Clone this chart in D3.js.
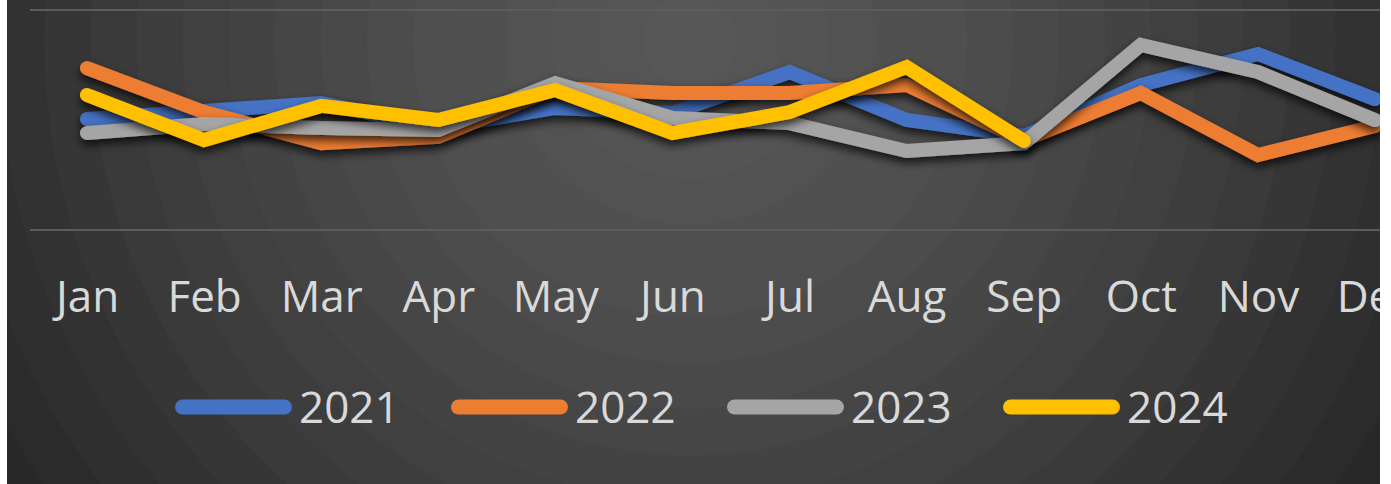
<!DOCTYPE html>
<html><head><meta charset="utf-8">
<script src="https://cdn.jsdelivr.net/npm/d3@7"></script>
<style>html,body{margin:0;padding:0;background:#fff;overflow:hidden}</style>
</head><body>
<svg id="chart" width="1391" height="484"></svg>
<script>
const months = ["Jan","Feb","Mar","Apr","May","Jun","Jul","Aug","Sep","Oct","Nov","Dec"];
const seriesNames = ["2021","2022","2023","2024"];
const values2021 = [50.5, 54.1, 57.7, 46.4, 55.5, 53.2, 71.8, 50.0, 42.7, 65.9, 80.0, 59.5];
const values2022 = [73.6, 53.6, 39.5, 42.3, 64.5, 62.3, 62.3, 65.9, 40.9, 62.3, 34.1, 47.3];
const values2023 = [44.1, 48.2, 46.4, 45.5, 66.8, 50.9, 48.6, 35.9, 39.5, 84.1, 71.8, 50.0];
const values2024 = [61.4, 40.9, 56.4, 50.0, 63.6, 44.1, 53.6, 74.1, 40.5];
const gridValues = [0, 100];
const seriesColors = ["#4472C4", "#ED7D31", "#A5A5A5", "#FFC000"];

const allValues = [values2021, values2022, values2023, values2024];
const W = 1391, H = 484;
const svg = d3.select("#chart");
const defs = svg.append("defs");

// stepped radial background (concentric bands)
const rg = defs.append("radialGradient").attr("id","bg")
  .attr("gradientUnits","userSpaceOnUse").attr("cx",690).attr("cy",40).attr("r",830);
const bandCount = 18;
const shade = d3.scaleLinear().domain([0, 0.3, 0.6, 1]).range(["#575757","#4e4e4e","#3e3e3e","#242424"]);
for (let b = 0; b < bandCount; b++) {
  const o0 = b / bandCount, o1 = (b + 1) / bandCount;
  const c = shade(o0);
  rg.append("stop").attr("offset", o0).attr("stop-color", c);
  rg.append("stop").attr("offset", o1 - 0.0001).attr("stop-color", c);
}

const f = defs.append("filter").attr("id","shadow").attr("x","-10%").attr("y","-50%").attr("width","120%").attr("height","200%");
f.append("feDropShadow").attr("dx",0).attr("dy",5).attr("stdDeviation",5)
  .attr("flood-color","#000").attr("flood-opacity",0.75);

svg.append("rect").attr("x",0).attr("y",0).attr("width",W).attr("height",H).attr("fill","url(#bg)");

const x = d3.scalePoint().domain(months).range([87, 1375]);
const y = d3.scaleLinear().domain([0, 100]).range([230, 10]);

svg.append("g").selectAll("line").data(gridValues).join("line")
  .attr("x1", 30).attr("x2", W).attr("y1", d => y(d)).attr("y2", d => y(d))
  .attr("stroke", "#5c5c5c").attr("stroke-width", 2);

const line = d3.line().x((d,i) => x(months[i])).y(d => y(d));
svg.append("g").selectAll("path").data(allValues).join("path")
  .attr("d", d => line(d))
  .attr("fill","none")
  .attr("stroke", (d,i) => seriesColors[i])
  .attr("stroke-width", 14)
  .attr("stroke-linecap","round")
  .attr("stroke-linejoin","miter")
  .attr("filter","url(#shadow)");

const xAxis = svg.append("g").attr("transform", `translate(0,${y(0)})`)
  .call(d3.axisBottom(x).tickSize(0).tickPadding(51));
xAxis.select(".domain").remove();
xAxis.selectAll("text").attr("fill","#d9d9d9")
  .style("font-family","'Open Sans', sans-serif").style("font-size","44px");

const legend = svg.append("g").selectAll("g").data(seriesNames).join("g")
  .attr("transform", (d,i) => `translate(${175 + i*276},407)`);
legend.append("line").attr("x1",7.5).attr("x2",109.5).attr("y1",0).attr("y2",0)
  .attr("stroke",(d,i) => seriesColors[i]).attr("stroke-width",15).attr("stroke-linecap","round");
legend.append("text").attr("x",124).attr("y",16).text(d => d)
  .attr("fill","#d9d9d9").style("font-family","'Open Sans', sans-serif").style("font-size","44px");

svg.append("rect").attr("x",0).attr("y",0).attr("width",7).attr("height",H).attr("fill","#fff");
svg.append("rect").attr("x",1380).attr("y",0).attr("width",11).attr("height",H).attr("fill","#fff");
</script>
</body></html>
